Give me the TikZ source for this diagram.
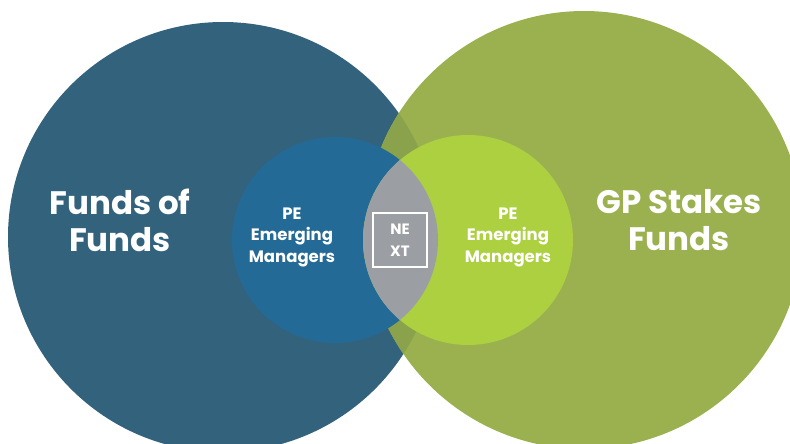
\documentclass[tikz,border=0pt]{standalone}
\usepackage{fontspec}
\setmainfont{Poppins}
\usetikzlibrary{positioning}
\definecolor{fofblue}{HTML}{33627D}
\definecolor{gpgreen}{HTML}{9BB150}
\definecolor{overlapgreen}{HTML}{8AA24B}
\definecolor{innerblue}{HTML}{246A97}
\definecolor{innergreen}{HTML}{ACD03F}
\definecolor{lensgray}{HTML}{9B9FA3}

\begin{document}
\begin{tikzpicture}[x=1pt,y=-1pt,
        bigtext/.style={text=white,font=\fontsize{32.5}{37}\selectfont\bfseries,align=center},
        smalltext/.style={text=white,font=\fontsize{16.5}{21.5}\selectfont\bfseries,align=center},
        nexttext/.style={text=white,font=\fontsize{15}{22}\selectfont\bfseries,align=center},
        disc/.style={circle,inner sep=0pt,minimum size=#1}]
        \useasboundingbox (0,0) rectangle (790,444);
        \clip (0,0) rectangle (790,444);
        % outer circles
        \node(FoF) [disc=430pt,fill=fofblue] at (223,237) {};
        \node(GPS) [disc=438pt,fill=gpgreen] at (584,230) {};
        \begin{scope}
            \clip (223,237) circle[radius=215pt];
            \fill[overlapgreen] (584,230) circle[radius=219pt];
        \end{scope}
        % inner circles
        \node(PEL) [disc=206pt,fill=innerblue] at (335,240) {};
        \node(PER) [disc=210pt,fill=innergreen] at (468,240) {};
        \begin{scope}
            \clip (335,240) circle[radius=103pt];
            \fill[lensgray] (468,240) circle[radius=105pt];
        \end{scope}
        \node(NEXT) [draw=white,line width=1.5pt,minimum size=54pt,inner sep=0pt,nexttext] at (400,240) {NE\\XT};
        % labels
        \node(FoFt) [bigtext] at (120,220) {Funds of\\Funds};
        \node(GPSt) [bigtext] at (679,220) {GP Stakes\\Funds};
        \node(PELt) [smalltext] at (292,237) {PE\\Emerging\\Managers};
        \node(PERt) [smalltext] at (508,237) {PE\\Emerging\\Managers};
\end{tikzpicture}
\end{document}
